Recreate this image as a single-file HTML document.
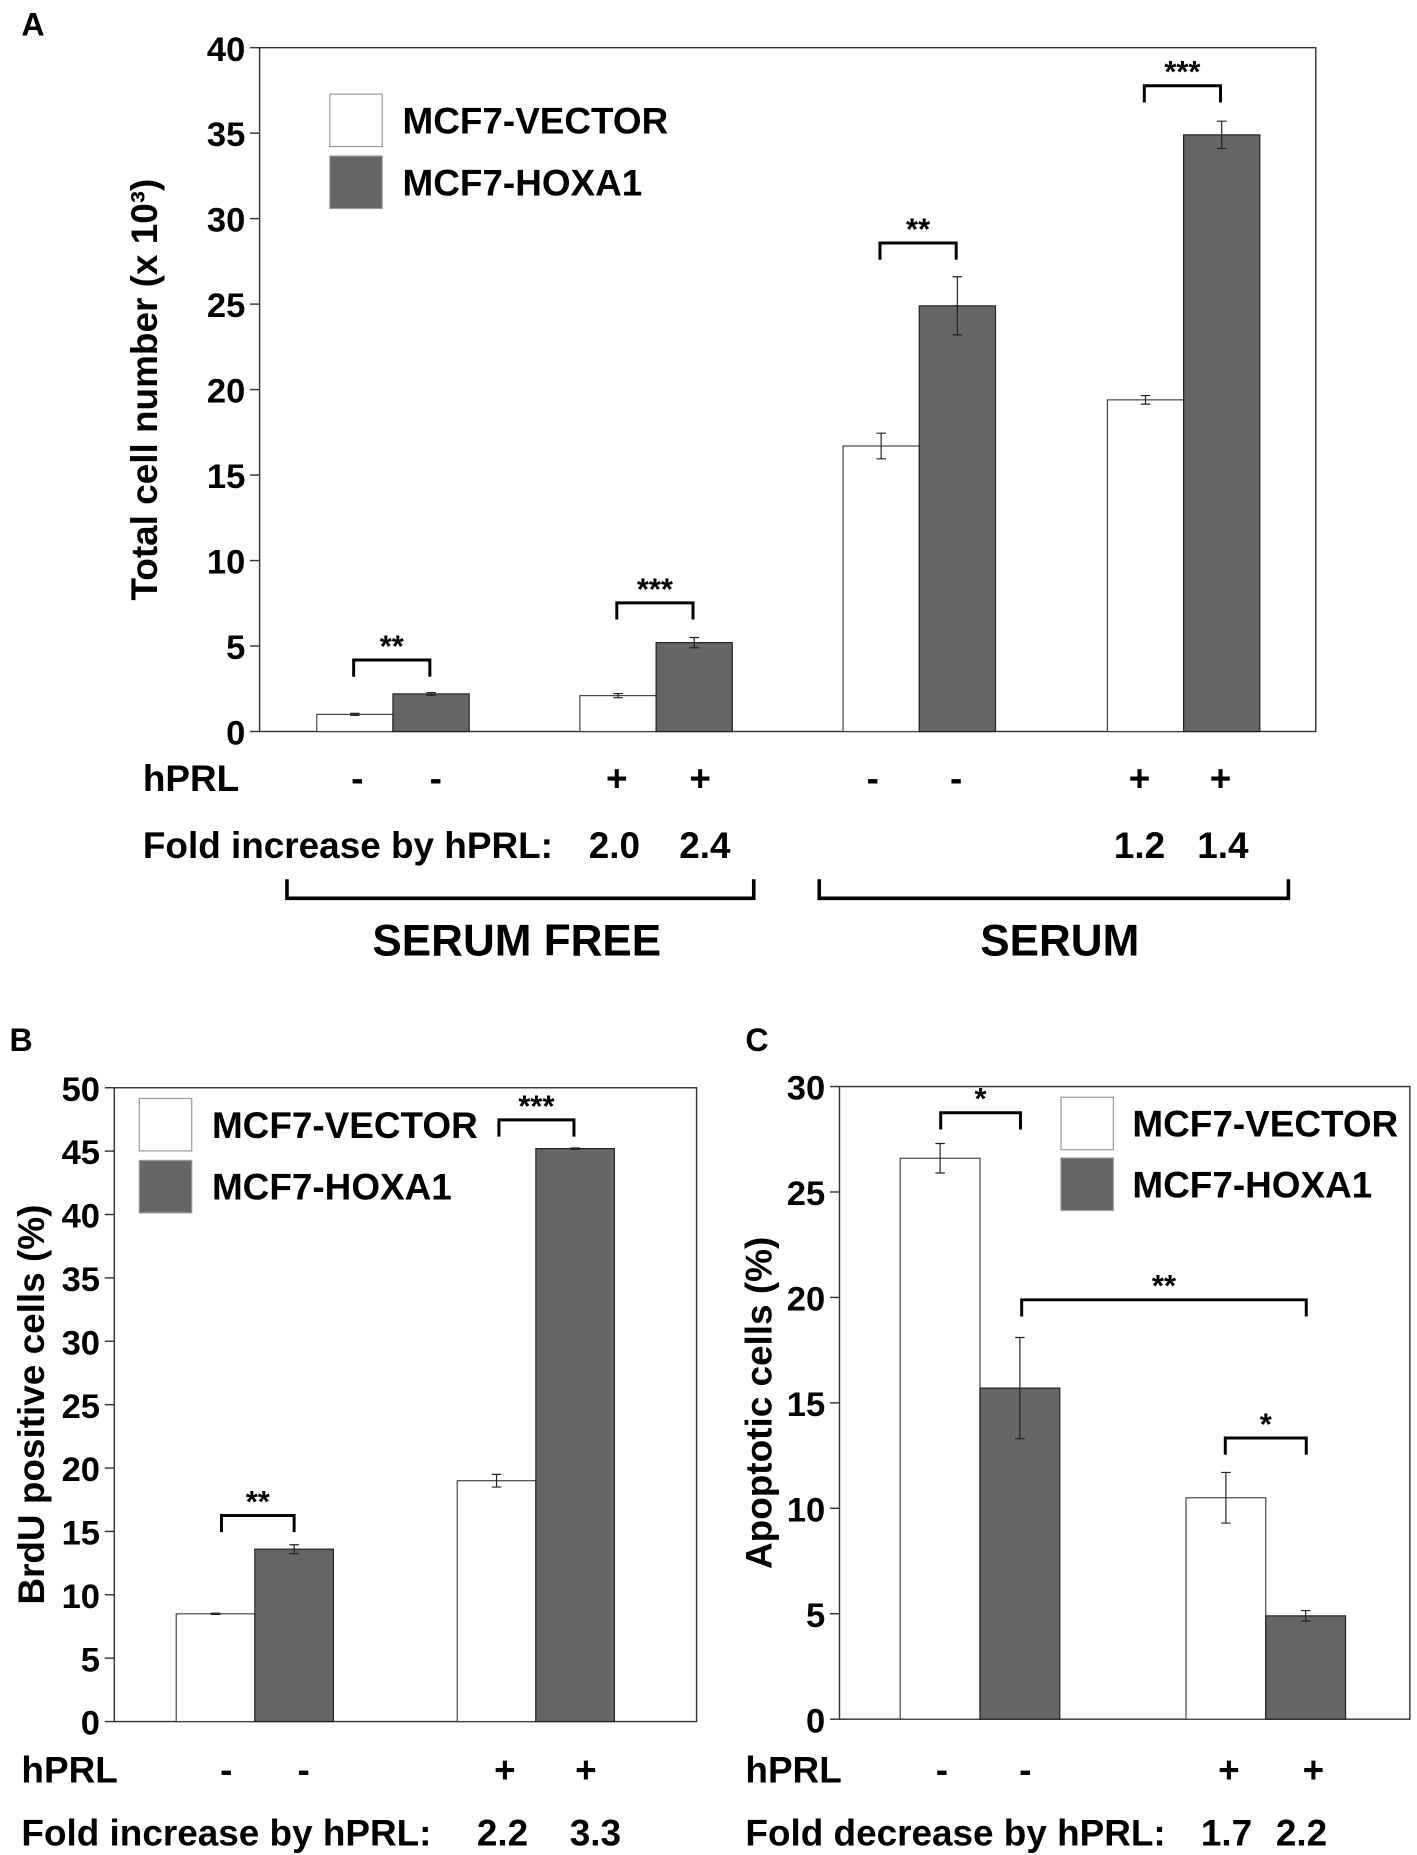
<!DOCTYPE html>
<html><head><meta charset="utf-8"><style>
html,body{margin:0;padding:0;background:#fff}
svg{display:block}
text{font-family:"Liberation Sans",Arial,sans-serif;font-weight:bold;fill:#000}
</style></head><body>
<svg id="fig" width="1417" height="1855" viewBox="0 0 1190 1557" preserveAspectRatio="none"></svg>
<script>
// Panel A data
const catsA = ["SF -", "SF +", "S -", "S +"];
const vectorA = [1.0, 2.1, 16.7, 19.4];
const vectorErrA = [0.06, 0.12, 0.75, 0.25];
const hoxaA = [2.2, 5.2, 24.9, 34.9];
const hoxaErrA = [0.08, 0.3, 1.7, 0.8];
const ticksA = [0,5,10,15,20,25,30,35,40];
// Panel B data
const catsB = ["-", "+"];
const vectorB = [8.5, 19.0];
const vectorErrB = [0.05, 0.5];
const hoxaB = [13.6, 45.2];
const hoxaErrB = [0.35, 0.05];
const ticksB = [0,5,10,15,20,25,30,35,40,45,50];
// Panel C data
const catsC = ["-", "+"];
const vectorC = [26.6, 10.5];
const vectorErrC = [0.7, 1.2];
const hoxaC = [15.7, 4.9];
const hoxaErrC = [2.4, 0.25];
const ticksC = [0,5,10,15,20,25,30];

const NS="http://www.w3.org/2000/svg";
const svg=document.getElementById('fig');
function el(tag,attrs,parent){const e=document.createElementNS(NS,tag);for(const k in attrs)e.setAttribute(k,attrs[k]);(parent||svg).appendChild(e);return e;}
function txt(s,x,y,size,anchor,parent,extra){const t=el('text',Object.assign({x:x,y:y,'font-size':size,'text-anchor':anchor||'start'},extra||{}),parent);t.textContent=s;return t;}

function panel(cfg){
  const g=el('g',{});
  
  
  const y=v=>cfg.y0-(v-0)/cfg.max*(cfg.y0-cfg.y1);
  const frame=el('rect',{x:cfg.x0,y:cfg.y1,width:cfg.x1-cfg.x0,height:cfg.y0-cfg.y1,fill:'none',stroke:'#333','stroke-width':1.2},g);
  
  
  cfg.ticks.forEach(t=>{
    const l=el('line',{x1:cfg.x0-8,x2:cfg.x0,y1:y(t),y2:y(t),stroke:'#333','stroke-width':1.2},g);
    
    
    const lb=txt(String(t),cfg.x0-12,y(t)+11,cfg.tickSize,'end',g);
    
    
  });
  const yt=txt(cfg.ytitle,0,0,cfg.titleSize,'middle',g,{transform:`translate(${cfg.titleX},${(cfg.y0+cfg.y1)/2}) rotate(-90)`});
  
  
  cfg.groupX.forEach((gx,i)=>{
    const w=cfg.barW;
    [[cfg.vec,cfg.vecErr,'#fff','#444',gx-w,'bar-vector'],[cfg.hox,cfg.hoxErr,'#666','#222',gx,'bar-hoxa1']].forEach(([vals,errs,fill,st,bx,nm])=>{
      const r=el('rect',{x:bx,y:y(vals[i]),width:w,height:y(0)-y(vals[i]),fill:fill,stroke:st,'stroke-width':1},g);
      
      
      const cx=bx+w/2, e1=y(vals[i]+errs[i]), e2=y(vals[i]-errs[i]);
      const eb=el('path',{d:`M${cx} ${e1}V${e2}M${cx-4} ${e1}H${cx+4}M${cx-4} ${e2}H${cx+4}`,stroke:'#222','stroke-width':1,fill:'none'},g);
      
      
    });
  });
  const L=cfg.legend;
  const b1=el('rect',{x:L.x,y:L.y,width:L.s,height:L.s,fill:'#fff',stroke:'#999','stroke-width':1},g);
  
  
  const b2=el('rect',{x:L.x,y:L.y+L.gap,width:L.s,height:L.s,fill:'#666',stroke:'#999','stroke-width':1},g);
  
  
  const t1=txt('MCF7-VECTOR',L.tx,L.y+L.s/2+11,L.fs,'start',g);
  
  
  const t2=txt('MCF7-HOXA1',L.tx,L.y+L.gap+L.s/2+11,L.fs,'start',g);
  
  
  cfg.sig.forEach(s=>{
    const p=el('path',{d:`M${s.xa} ${s.y+(s.la||14)}V${s.y}H${s.xb}V${s.y+(s.lb||14)}`,stroke:'#000','stroke-width':2.5,fill:'none'},g);
    
    
    const st=txt(s.t,(s.xa+s.xb)/2,s.y-3,26,'middle',g);
    
    
  });
  return {g,y};
}

const A=panel({name:'panel-a',x0:218,x1:1105,y0:614,y1:40,max:40,ticks:ticksA,tickSize:29,titleSize:31,titleX:132,
  ytitle:'Total cell number (x 10³)',groupX:[330,551,772,994],barW:64,
  vec:vectorA,vecErr:vectorErrA,hox:hoxaA,hoxErr:hoxaErrA,
  legend:{x:277,y:79,s:44,gap:52,tx:338,fs:31},
  sig:[{xa:297,xb:361,y:554,t:'**'},{xa:518,xb:582,y:506,t:'***'},{xa:739,xb:803,y:204,t:'**'},{xa:961,xb:1025,y:72,t:'***'}]});
const B=panel({name:'panel-b',x0:96,x1:585,y0:1445,y1:913,max:50,ticks:ticksB,tickSize:29,titleSize:31,titleX:37,
  ytitle:'BrdU positive cells (%)',groupX:[214,450],barW:66,
  vec:vectorB,vecErr:vectorErrB,hox:hoxaB,hoxErr:hoxaErrB,
  legend:{x:117,y:922,s:44,gap:52,tx:178,fs:31},
  sig:[{xa:186,xb:247,y:1272,t:'**'},{xa:419,xb:482,y:940,t:'***'}]});
const C=panel({name:'panel-c',x0:705,x1:1184,y0:1443,y1:912,max:30,ticks:ticksC,tickSize:29,titleSize:31,titleX:648,
  ytitle:'Apoptotic cells (%)',groupX:[823,1063],barW:67,
  vec:vectorC,vecErr:vectorErrC,hox:hoxaC,hoxErr:hoxaErrC,
  legend:{x:891,y:921,s:44,gap:51,tx:951,fs:31},
  sig:[{xa:790,xb:857,y:934,t:'*'},{xa:858,xb:1097,y:1091,t:'**'},{xa:1029,xb:1097,y:1207,t:'*'}]});

[['A',18,30],['B',8,882],['C',626,882]].forEach(([s,x,yy])=>{const t=txt(s,x,yy,27,'start');});

function lab(s,x,y,fs,anchor,name){const t=txt(s,x,y,fs,anchor);return t;}
lab('hPRL',120,664,31,'start','hprl-label-a');
[['-',300],['-',366],['+',518],['+',588],['-',733],['-',803],['+',957],['+',1025]].forEach(([s,x])=>lab(s,x,664,31,'middle','hprl-sign'));
lab('Fold increase by hPRL:',120,720,31,'start','fold-label-a');
[['2.0',516],['2.4',592],['1.2',957],['1.4',1027]].forEach(([s,x])=>lab(s,x,720,31,'middle','fold-value'));
const br1=el('path',{d:'M241 738V754H633V738',stroke:'#000','stroke-width':3,fill:'none'});


const br2=el('path',{d:'M688 738V754H1082V738',stroke:'#000','stroke-width':3,fill:'none'});


lab('SERUM FREE',434,802,37,'middle','serum-free-label');
lab('SERUM',890,802,37,'middle','serum-label');

lab('hPRL',18,1496,31,'start','hprl-label-b');
[['-',190],['-',255],['+',424],['+',492]].forEach(([s,x])=>lab(s,x,1496,31,'middle','hprl-sign'));
lab('Fold increase by hPRL:',18,1549,31,'start','fold-label-b');
[['2.2',422],['3.3',500]].forEach(([s,x])=>lab(s,x,1549,31,'middle','fold-value'));
lab('hPRL',626,1496,31,'start','hprl-label-c');
[['-',791],['-',861],['+',1032],['+',1103]].forEach(([s,x])=>lab(s,x,1496,31,'middle','hprl-sign'));
lab('Fold decrease by hPRL:',626,1549,31,'start','fold-label-c');
[['1.7',1030],['2.2',1093]].forEach(([s,x])=>lab(s,x,1549,31,'middle','fold-value'));
</script>
</body></html>
